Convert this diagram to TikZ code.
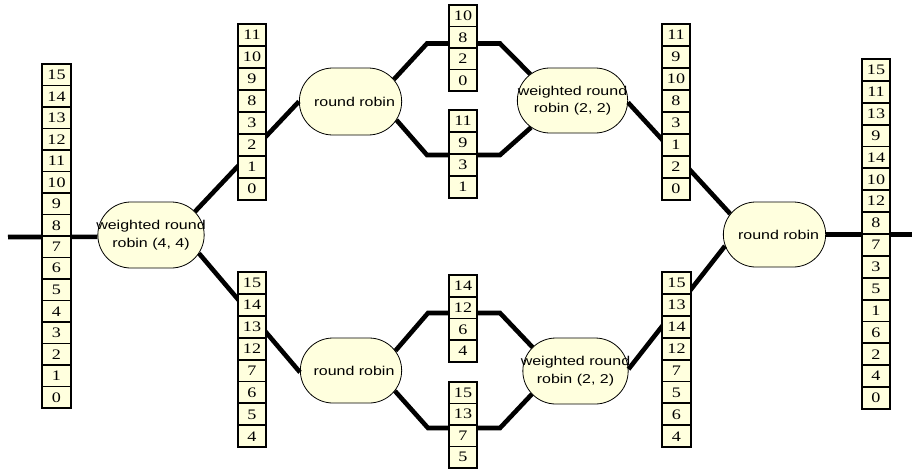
\documentclass[tikz,border=0pt]{standalone}
\usepackage{fontspec}
\usetikzlibrary{shapes.misc}
\newfontfamily\cellfont[FakeStretch=1.25]{Liberation Serif}
\newfontfamily\rrfont[FakeStretch=1.25]{Liberation Sans}
\definecolor{cream}{RGB}{255,255,222}

% a vertical stack of queue cells: name, x centre, top y, cell height, values
\newcommand{\qstack}[5]{%
  \foreach \v [count=\i] in {#5} {
    \node[cell, minimum height=#4] (#1-\i) at (#2, {#3+(\i-0.5)*#4}) {\v};
  }}

\begin{document}
\begin{tikzpicture}[x=1pt, y=-1pt,
  conn/.style={line width=4.6pt},
  cell/.style={draw, line width=1.9pt, fill=cream, minimum width=28.5pt,
    inner sep=0pt, font=\cellfont\fontsize{14.5}{14.5}\selectfont},
  sched/.style={rounded rectangle, draw, line width=0.8pt, fill=cream},
  lbl/.style={font=\rrfont\fontsize{12.8}{17.5}\selectfont, align=center, inner sep=0pt}]

\fill[white] (0,0) rectangle (912,472);
\useasboundingbox (0,0) rectangle (912,472);

% schedulers
\node[sched, minimum width=113pt, minimum height=66pt] (wrrL) at (151,235) {};
\node[sched, minimum width=109pt, minimum height=67pt] (rr1)  at (350.5,101.5) {};
\node[sched, minimum width=108pt, minimum height=65pt] (rrB)  at (351,370.5) {};
\node[sched, minimum width=117pt, minimum height=65pt] (wrr2) at (572.5,100.5) {};
\node[sched, minimum width=112pt, minimum height=66pt] (wrrB) at (575.5,371) {};
\node[sched, minimum width=109pt, minimum height=65pt] (rrR)  at (774.5,234.5) {};

\node[lbl] (wrrL-t) at (wrrL) {weighted round\\robin (4, 4)};
\node[lbl] (rr1-t)  at ([xshift=4pt]rr1.center)  {round robin};
\node[lbl] (rrB-t)  at ([xshift=3pt]rrB.center)  {round robin};
\node[lbl] (wrr2-t) at (wrr2) {weighted round\\robin (2, 2)};
\node[lbl] (wrrB-t) at (wrrB) {weighted round\\robin (2, 2)};
\node[lbl] (rrR-t)  at ([xshift=4pt]rrR.center)  {round robin};

% free ends and bends of the links
\coordinate (inL)  at (8,237);
\coordinate (outR) at (912,234.5);
\coordinate (c1) at (427,43.5);
\coordinate (c2) at (500,43.5);
\coordinate (c3) at (427,155);
\coordinate (c4) at (500,155);
\coordinate (c5) at (428,313);
\coordinate (c6) at (500,313);
\coordinate (c7) at (428,428);
\coordinate (c8) at (500,428);

% links
\draw[conn] (inL) -- (wrrL.182);
\draw[conn] (wrrL.28.5) -- (rr1.180);
\draw[conn] (wrrL.-21.4) -- (rrB.182.7);
\draw[conn] (rr1.27.8) -- (c1) -- (c2) -- (wrr2.148.4);
\draw[conn] (rr1.-22) -- (c3) -- (c4) -- (wrr2.213.5);
\draw[conn] (rrB.24) -- (c5) -- (c6) -- (wrrB.151.8);
\draw[conn] (rrB.-25) -- (c7) -- (c8) -- (wrrB.208.7);
\draw[conn] (wrr2.-2) -- (rrR.155.2);
\draw[conn] (wrrB.2) -- (rrR.193.6);
\draw[conn] (rrR.east) -- (outR);

% queues
\qstack{qL}{56.5}{64}{21.5}{15,14,13,12,11,10,9,8,7,6,5,4,3,2,1,0}
\qstack{qT1}{252}{24}{22}{11,10,9,8,3,2,1,0}
\qstack{qB1}{252}{272}{21.9}{15,14,13,12,7,6,5,4}
\qstack{qTM1}{463}{5}{21.5}{10,8,2,0}
\qstack{qTM2}{463}{110}{22}{11,9,3,1}
\qstack{qBM1}{463}{275}{21.75}{14,12,6,4}
\qstack{qBM2}{463}{382}{21.5}{15,13,7,5}
\qstack{qTR}{676}{24}{22}{11,9,10,8,3,1,2,0}
\qstack{qBR}{676.5}{272}{21.9}{15,13,14,12,7,5,6,4}
\qstack{qR}{876}{59}{21.875}{15,11,13,9,14,10,12,8,7,3,5,1,6,2,4,0}
\end{tikzpicture}
\end{document}
